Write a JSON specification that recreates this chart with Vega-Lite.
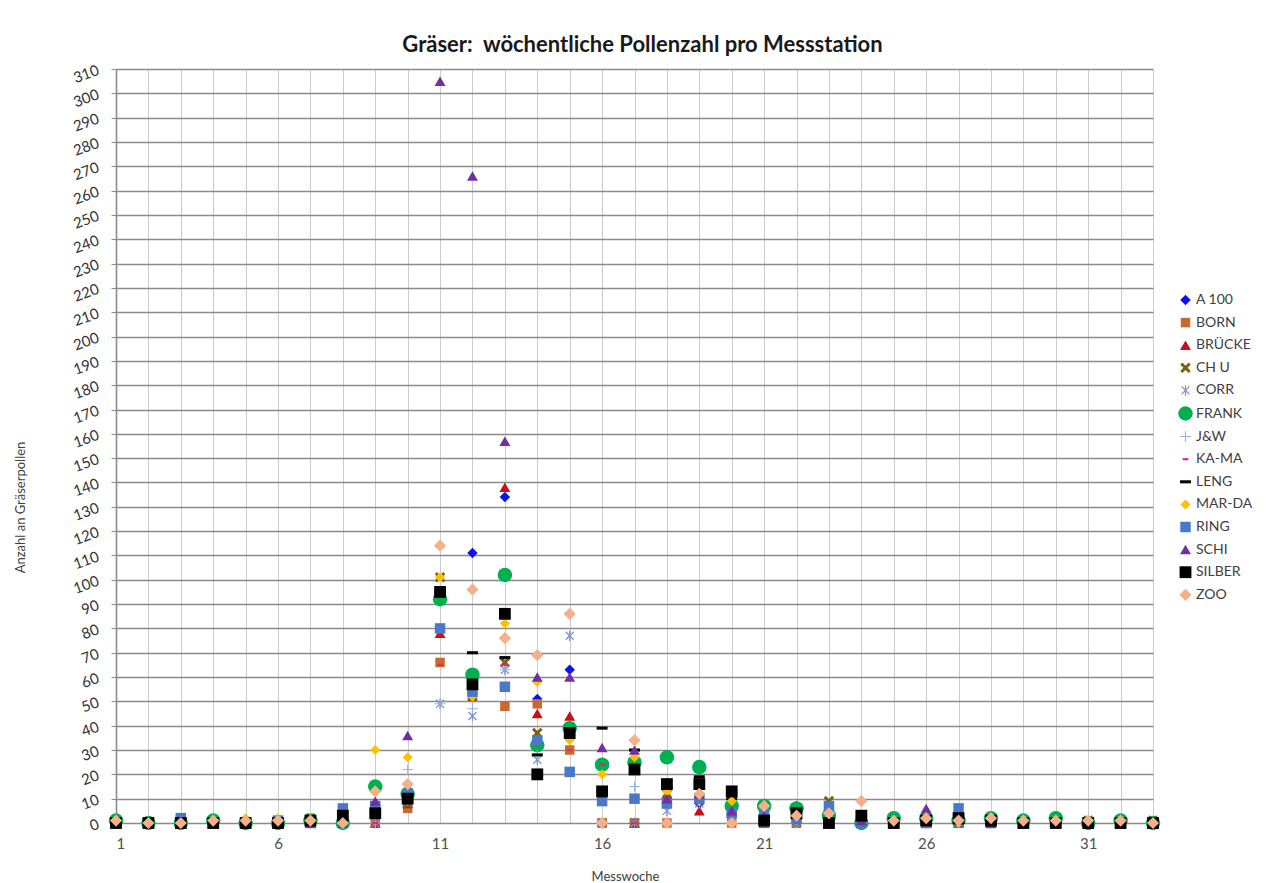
{
"$schema": "https://vega.github.io/schema/vega-lite/v6.json",
"width": 1037, "height": 754,
"autosize": {"type": "none"},
"padding": {"left": 116, "top": 69, "right": 135, "bottom": 60},
"background": "white",
"title": {"text": "Gräser:\u00a0 wöchentliche Pollenzahl pro Messstation", "font": "Lato", "fontSize": 22, "fontWeight": "bold", "color": "#1a1a1a", "anchor": "middle", "offset": 5, "dx": 8},
"data": {"values": [
{"s":"A 100","w":1,"v":0},{"s":"A 100","w":2,"v":0},{"s":"A 100","w":3,"v":0},{"s":"A 100","w":4,"v":0},{"s":"A 100","w":5,"v":0},{"s":"A 100","w":6,"v":0},{"s":"A 100","w":7,"v":0},{"s":"A 100","w":8,"v":0},{"s":"A 100","w":9,"v":2},{"s":"A 100","w":10,"v":8},{"s":"A 100","w":11,"v":95},{"s":"A 100","w":12,"v":111},{"s":"A 100","w":13,"v":134},{"s":"A 100","w":14,"v":51},{"s":"A 100","w":15,"v":63},{"s":"A 100","w":16,"v":0},{"s":"A 100","w":17,"v":0},{"s":"A 100","w":18,"v":10},{"s":"A 100","w":19,"v":8},{"s":"A 100","w":20,"v":4},{"s":"A 100","w":21,"v":0},{"s":"A 100","w":22,"v":7},{"s":"A 100","w":23,"v":3},{"s":"A 100","w":24,"v":1},{"s":"A 100","w":25,"v":0},{"s":"A 100","w":26,"v":0},{"s":"A 100","w":27,"v":1},{"s":"A 100","w":28,"v":0},{"s":"A 100","w":29,"v":0},{"s":"A 100","w":30,"v":0},{"s":"A 100","w":31,"v":0},{"s":"A 100","w":32,"v":0},{"s":"A 100","w":33,"v":0},
{"s":"BORN","w":1,"v":0},{"s":"BORN","w":2,"v":0},{"s":"BORN","w":3,"v":0},{"s":"BORN","w":4,"v":0},{"s":"BORN","w":5,"v":0},{"s":"BORN","w":6,"v":0},{"s":"BORN","w":7,"v":0},{"s":"BORN","w":8,"v":0},{"s":"BORN","w":9,"v":0},{"s":"BORN","w":10,"v":6},{"s":"BORN","w":11,"v":66},{"s":"BORN","w":12,"v":52},{"s":"BORN","w":13,"v":48},{"s":"BORN","w":14,"v":49},{"s":"BORN","w":15,"v":30},{"s":"BORN","w":16,"v":0},{"s":"BORN","w":17,"v":0},{"s":"BORN","w":18,"v":0},{"s":"BORN","w":19,"v":10},{"s":"BORN","w":20,"v":0},{"s":"BORN","w":21,"v":0},{"s":"BORN","w":22,"v":0},{"s":"BORN","w":23,"v":2},{"s":"BORN","w":24,"v":0},{"s":"BORN","w":25,"v":0},{"s":"BORN","w":26,"v":0},{"s":"BORN","w":27,"v":0},{"s":"BORN","w":28,"v":0},{"s":"BORN","w":29,"v":0},{"s":"BORN","w":30,"v":0},{"s":"BORN","w":31,"v":0},{"s":"BORN","w":32,"v":0},{"s":"BORN","w":33,"v":0},
{"s":"BRÜCKE","w":1,"v":0},{"s":"BRÜCKE","w":2,"v":0},{"s":"BRÜCKE","w":3,"v":0},{"s":"BRÜCKE","w":4,"v":0},{"s":"BRÜCKE","w":5,"v":0},{"s":"BRÜCKE","w":6,"v":0},{"s":"BRÜCKE","w":7,"v":0},{"s":"BRÜCKE","w":8,"v":0},{"s":"BRÜCKE","w":9,"v":0},{"s":"BRÜCKE","w":10,"v":8},{"s":"BRÜCKE","w":11,"v":78},{"s":"BRÜCKE","w":12,"v":55},{"s":"BRÜCKE","w":13,"v":138},{"s":"BRÜCKE","w":14,"v":45},{"s":"BRÜCKE","w":15,"v":44},{"s":"BRÜCKE","w":16,"v":24},{"s":"BRÜCKE","w":17,"v":0},{"s":"BRÜCKE","w":18,"v":12},{"s":"BRÜCKE","w":19,"v":5},{"s":"BRÜCKE","w":20,"v":4},{"s":"BRÜCKE","w":21,"v":0},{"s":"BRÜCKE","w":22,"v":2},{"s":"BRÜCKE","w":23,"v":0},{"s":"BRÜCKE","w":24,"v":0},{"s":"BRÜCKE","w":25,"v":0},{"s":"BRÜCKE","w":26,"v":0},{"s":"BRÜCKE","w":27,"v":0},{"s":"BRÜCKE","w":28,"v":0},{"s":"BRÜCKE","w":29,"v":0},{"s":"BRÜCKE","w":30,"v":0},{"s":"BRÜCKE","w":31,"v":0},{"s":"BRÜCKE","w":32,"v":0},{"s":"BRÜCKE","w":33,"v":0},
{"s":"CH U","w":1,"v":0},{"s":"CH U","w":2,"v":0},{"s":"CH U","w":3,"v":0},{"s":"CH U","w":4,"v":0},{"s":"CH U","w":5,"v":0},{"s":"CH U","w":6,"v":0},{"s":"CH U","w":7,"v":2},{"s":"CH U","w":8,"v":0},{"s":"CH U","w":9,"v":4},{"s":"CH U","w":10,"v":8},{"s":"CH U","w":11,"v":101},{"s":"CH U","w":12,"v":52},{"s":"CH U","w":13,"v":66},{"s":"CH U","w":14,"v":37},{"s":"CH U","w":15,"v":36},{"s":"CH U","w":16,"v":0},{"s":"CH U","w":17,"v":0},{"s":"CH U","w":18,"v":12},{"s":"CH U","w":19,"v":10},{"s":"CH U","w":20,"v":5},{"s":"CH U","w":21,"v":0},{"s":"CH U","w":22,"v":0},{"s":"CH U","w":23,"v":9},{"s":"CH U","w":24,"v":0},{"s":"CH U","w":25,"v":0},{"s":"CH U","w":26,"v":1},{"s":"CH U","w":27,"v":0},{"s":"CH U","w":28,"v":0},{"s":"CH U","w":29,"v":0},{"s":"CH U","w":30,"v":0},{"s":"CH U","w":31,"v":1},{"s":"CH U","w":32,"v":0},{"s":"CH U","w":33,"v":1},
{"s":"CORR","w":1,"v":0},{"s":"CORR","w":2,"v":0},{"s":"CORR","w":3,"v":0},{"s":"CORR","w":4,"v":0},{"s":"CORR","w":5,"v":0},{"s":"CORR","w":6,"v":0},{"s":"CORR","w":7,"v":0},{"s":"CORR","w":8,"v":0},{"s":"CORR","w":9,"v":0},{"s":"CORR","w":10,"v":9},{"s":"CORR","w":11,"v":49},{"s":"CORR","w":12,"v":44},{"s":"CORR","w":13,"v":63},{"s":"CORR","w":14,"v":26},{"s":"CORR","w":15,"v":77},{"s":"CORR","w":16,"v":0},{"s":"CORR","w":17,"v":0},{"s":"CORR","w":18,"v":5},{"s":"CORR","w":19,"v":8},{"s":"CORR","w":20,"v":2},{"s":"CORR","w":21,"v":0},{"s":"CORR","w":22,"v":0},{"s":"CORR","w":23,"v":2},{"s":"CORR","w":24,"v":0},{"s":"CORR","w":25,"v":0},{"s":"CORR","w":26,"v":0},{"s":"CORR","w":27,"v":0},{"s":"CORR","w":28,"v":0},{"s":"CORR","w":29,"v":0},{"s":"CORR","w":30,"v":0},{"s":"CORR","w":31,"v":0},{"s":"CORR","w":32,"v":0},{"s":"CORR","w":33,"v":0},
{"s":"FRANK","w":1,"v":1},{"s":"FRANK","w":2,"v":0},{"s":"FRANK","w":3,"v":0},{"s":"FRANK","w":4,"v":1},{"s":"FRANK","w":5,"v":0},{"s":"FRANK","w":6,"v":0},{"s":"FRANK","w":7,"v":1},{"s":"FRANK","w":8,"v":0},{"s":"FRANK","w":9,"v":15},{"s":"FRANK","w":10,"v":12},{"s":"FRANK","w":11,"v":92},{"s":"FRANK","w":12,"v":61},{"s":"FRANK","w":13,"v":102},{"s":"FRANK","w":14,"v":32},{"s":"FRANK","w":15,"v":39},{"s":"FRANK","w":16,"v":24},{"s":"FRANK","w":17,"v":25},{"s":"FRANK","w":18,"v":27},{"s":"FRANK","w":19,"v":23},{"s":"FRANK","w":20,"v":7},{"s":"FRANK","w":21,"v":7},{"s":"FRANK","w":22,"v":6},{"s":"FRANK","w":23,"v":3},{"s":"FRANK","w":24,"v":0},{"s":"FRANK","w":25,"v":2},{"s":"FRANK","w":26,"v":2},{"s":"FRANK","w":27,"v":1},{"s":"FRANK","w":28,"v":2},{"s":"FRANK","w":29,"v":1},{"s":"FRANK","w":30,"v":2},{"s":"FRANK","w":31,"v":0},{"s":"FRANK","w":32,"v":1},{"s":"FRANK","w":33,"v":0},
{"s":"J&W","w":1,"v":0},{"s":"J&W","w":2,"v":0},{"s":"J&W","w":3,"v":0},{"s":"J&W","w":4,"v":0},{"s":"J&W","w":5,"v":0},{"s":"J&W","w":6,"v":0},{"s":"J&W","w":7,"v":0},{"s":"J&W","w":8,"v":0},{"s":"J&W","w":9,"v":0},{"s":"J&W","w":10,"v":22},{"s":"J&W","w":11,"v":49},{"s":"J&W","w":12,"v":47},{"s":"J&W","w":13,"v":63},{"s":"J&W","w":14,"v":28},{"s":"J&W","w":15,"v":35},{"s":"J&W","w":16,"v":0},{"s":"J&W","w":17,"v":15},{"s":"J&W","w":18,"v":8},{"s":"J&W","w":19,"v":10},{"s":"J&W","w":20,"v":4},{"s":"J&W","w":21,"v":2},{"s":"J&W","w":22,"v":3},{"s":"J&W","w":23,"v":5},{"s":"J&W","w":24,"v":0},{"s":"J&W","w":25,"v":0},{"s":"J&W","w":26,"v":0},{"s":"J&W","w":27,"v":0},{"s":"J&W","w":28,"v":0},{"s":"J&W","w":29,"v":0},{"s":"J&W","w":30,"v":0},{"s":"J&W","w":31,"v":0},{"s":"J&W","w":32,"v":0},{"s":"J&W","w":33,"v":0},
{"s":"KA-MA","w":1,"v":0},{"s":"KA-MA","w":2,"v":0},{"s":"KA-MA","w":3,"v":0},{"s":"KA-MA","w":4,"v":0},{"s":"KA-MA","w":5,"v":0},{"s":"KA-MA","w":6,"v":0},{"s":"KA-MA","w":7,"v":0},{"s":"KA-MA","w":8,"v":0},{"s":"KA-MA","w":9,"v":0},{"s":"KA-MA","w":10,"v":10},{"s":"KA-MA","w":11,"v":65},{"s":"KA-MA","w":12,"v":52},{"s":"KA-MA","w":13,"v":65},{"s":"KA-MA","w":14,"v":32},{"s":"KA-MA","w":15,"v":30},{"s":"KA-MA","w":16,"v":24},{"s":"KA-MA","w":17,"v":0},{"s":"KA-MA","w":18,"v":12},{"s":"KA-MA","w":19,"v":12},{"s":"KA-MA","w":20,"v":4},{"s":"KA-MA","w":21,"v":0},{"s":"KA-MA","w":22,"v":0},{"s":"KA-MA","w":23,"v":0},{"s":"KA-MA","w":24,"v":0},{"s":"KA-MA","w":25,"v":0},{"s":"KA-MA","w":26,"v":0},{"s":"KA-MA","w":27,"v":0},{"s":"KA-MA","w":28,"v":0},{"s":"KA-MA","w":29,"v":0},{"s":"KA-MA","w":30,"v":0},{"s":"KA-MA","w":31,"v":0},{"s":"KA-MA","w":32,"v":0},{"s":"KA-MA","w":33,"v":0},
{"s":"LENG","w":1,"v":0},{"s":"LENG","w":2,"v":0},{"s":"LENG","w":3,"v":0},{"s":"LENG","w":4,"v":0},{"s":"LENG","w":5,"v":0},{"s":"LENG","w":6,"v":0},{"s":"LENG","w":7,"v":0},{"s":"LENG","w":8,"v":2},{"s":"LENG","w":9,"v":5},{"s":"LENG","w":10,"v":10},{"s":"LENG","w":11,"v":95},{"s":"LENG","w":12,"v":70},{"s":"LENG","w":13,"v":68},{"s":"LENG","w":14,"v":28},{"s":"LENG","w":15,"v":38},{"s":"LENG","w":16,"v":39},{"s":"LENG","w":17,"v":30},{"s":"LENG","w":18,"v":15},{"s":"LENG","w":19,"v":19},{"s":"LENG","w":20,"v":10},{"s":"LENG","w":21,"v":1},{"s":"LENG","w":22,"v":2},{"s":"LENG","w":23,"v":1},{"s":"LENG","w":24,"v":2},{"s":"LENG","w":25,"v":0},{"s":"LENG","w":26,"v":1},{"s":"LENG","w":27,"v":0},{"s":"LENG","w":28,"v":0},{"s":"LENG","w":29,"v":0},{"s":"LENG","w":30,"v":0},{"s":"LENG","w":31,"v":0},{"s":"LENG","w":32,"v":0},{"s":"LENG","w":33,"v":0},
{"s":"MAR-DA","w":1,"v":0},{"s":"MAR-DA","w":2,"v":0},{"s":"MAR-DA","w":3,"v":0},{"s":"MAR-DA","w":4,"v":0},{"s":"MAR-DA","w":5,"v":2},{"s":"MAR-DA","w":6,"v":2},{"s":"MAR-DA","w":7,"v":2},{"s":"MAR-DA","w":8,"v":0},{"s":"MAR-DA","w":9,"v":30},{"s":"MAR-DA","w":10,"v":27},{"s":"MAR-DA","w":11,"v":101},{"s":"MAR-DA","w":12,"v":52},{"s":"MAR-DA","w":13,"v":82},{"s":"MAR-DA","w":14,"v":58},{"s":"MAR-DA","w":15,"v":34},{"s":"MAR-DA","w":16,"v":20},{"s":"MAR-DA","w":17,"v":27},{"s":"MAR-DA","w":18,"v":13},{"s":"MAR-DA","w":19,"v":9},{"s":"MAR-DA","w":20,"v":9},{"s":"MAR-DA","w":21,"v":2},{"s":"MAR-DA","w":22,"v":3},{"s":"MAR-DA","w":23,"v":2},{"s":"MAR-DA","w":24,"v":0},{"s":"MAR-DA","w":25,"v":0},{"s":"MAR-DA","w":26,"v":0},{"s":"MAR-DA","w":27,"v":0},{"s":"MAR-DA","w":28,"v":0},{"s":"MAR-DA","w":29,"v":0},{"s":"MAR-DA","w":30,"v":0},{"s":"MAR-DA","w":31,"v":0},{"s":"MAR-DA","w":32,"v":0},{"s":"MAR-DA","w":33,"v":0},
{"s":"RING","w":1,"v":0},{"s":"RING","w":2,"v":0},{"s":"RING","w":3,"v":2},{"s":"RING","w":4,"v":0},{"s":"RING","w":5,"v":0},{"s":"RING","w":6,"v":1},{"s":"RING","w":7,"v":0},{"s":"RING","w":8,"v":6},{"s":"RING","w":9,"v":7},{"s":"RING","w":10,"v":12},{"s":"RING","w":11,"v":80},{"s":"RING","w":12,"v":54},{"s":"RING","w":13,"v":56},{"s":"RING","w":14,"v":34},{"s":"RING","w":15,"v":21},{"s":"RING","w":16,"v":9},{"s":"RING","w":17,"v":10},{"s":"RING","w":18,"v":8},{"s":"RING","w":19,"v":10},{"s":"RING","w":20,"v":4},{"s":"RING","w":21,"v":4},{"s":"RING","w":22,"v":2},{"s":"RING","w":23,"v":7},{"s":"RING","w":24,"v":0},{"s":"RING","w":25,"v":0},{"s":"RING","w":26,"v":0},{"s":"RING","w":27,"v":6},{"s":"RING","w":28,"v":0},{"s":"RING","w":29,"v":0},{"s":"RING","w":30,"v":0},{"s":"RING","w":31,"v":0},{"s":"RING","w":32,"v":0},{"s":"RING","w":33,"v":0},
{"s":"SCHI","w":1,"v":0},{"s":"SCHI","w":2,"v":0},{"s":"SCHI","w":3,"v":0},{"s":"SCHI","w":4,"v":0},{"s":"SCHI","w":5,"v":0},{"s":"SCHI","w":6,"v":0},{"s":"SCHI","w":7,"v":0},{"s":"SCHI","w":8,"v":0},{"s":"SCHI","w":9,"v":9},{"s":"SCHI","w":10,"v":36},{"s":"SCHI","w":11,"v":305},{"s":"SCHI","w":12,"v":266},{"s":"SCHI","w":13,"v":157},{"s":"SCHI","w":14,"v":60},{"s":"SCHI","w":15,"v":60},{"s":"SCHI","w":16,"v":31},{"s":"SCHI","w":17,"v":30},{"s":"SCHI","w":18,"v":10},{"s":"SCHI","w":19,"v":12},{"s":"SCHI","w":20,"v":5},{"s":"SCHI","w":21,"v":3},{"s":"SCHI","w":22,"v":4},{"s":"SCHI","w":23,"v":2},{"s":"SCHI","w":24,"v":1},{"s":"SCHI","w":25,"v":0},{"s":"SCHI","w":26,"v":6},{"s":"SCHI","w":27,"v":1},{"s":"SCHI","w":28,"v":0},{"s":"SCHI","w":29,"v":0},{"s":"SCHI","w":30,"v":0},{"s":"SCHI","w":31,"v":0},{"s":"SCHI","w":32,"v":0},{"s":"SCHI","w":33,"v":0},
{"s":"SILBER","w":1,"v":0},{"s":"SILBER","w":2,"v":0},{"s":"SILBER","w":3,"v":0},{"s":"SILBER","w":4,"v":0},{"s":"SILBER","w":5,"v":0},{"s":"SILBER","w":6,"v":0},{"s":"SILBER","w":7,"v":1},{"s":"SILBER","w":8,"v":3},{"s":"SILBER","w":9,"v":4},{"s":"SILBER","w":10,"v":10},{"s":"SILBER","w":11,"v":95},{"s":"SILBER","w":12,"v":57},{"s":"SILBER","w":13,"v":86},{"s":"SILBER","w":14,"v":20},{"s":"SILBER","w":15,"v":37},{"s":"SILBER","w":16,"v":13},{"s":"SILBER","w":17,"v":22},{"s":"SILBER","w":18,"v":16},{"s":"SILBER","w":19,"v":16},{"s":"SILBER","w":20,"v":13},{"s":"SILBER","w":21,"v":1},{"s":"SILBER","w":22,"v":4},{"s":"SILBER","w":23,"v":0},{"s":"SILBER","w":24,"v":3},{"s":"SILBER","w":25,"v":0},{"s":"SILBER","w":26,"v":1},{"s":"SILBER","w":27,"v":2},{"s":"SILBER","w":28,"v":1},{"s":"SILBER","w":29,"v":0},{"s":"SILBER","w":30,"v":0},{"s":"SILBER","w":31,"v":0},{"s":"SILBER","w":32,"v":0},{"s":"SILBER","w":33,"v":0},
{"s":"ZOO","w":1,"v":1},{"s":"ZOO","w":2,"v":0},{"s":"ZOO","w":3,"v":0},{"s":"ZOO","w":4,"v":1},{"s":"ZOO","w":5,"v":1},{"s":"ZOO","w":6,"v":1},{"s":"ZOO","w":7,"v":1},{"s":"ZOO","w":8,"v":0},{"s":"ZOO","w":9,"v":13},{"s":"ZOO","w":10,"v":16},{"s":"ZOO","w":11,"v":114},{"s":"ZOO","w":12,"v":96},{"s":"ZOO","w":13,"v":76},{"s":"ZOO","w":14,"v":69},{"s":"ZOO","w":15,"v":86},{"s":"ZOO","w":16,"v":0},{"s":"ZOO","w":17,"v":34},{"s":"ZOO","w":18,"v":0},{"s":"ZOO","w":19,"v":12},{"s":"ZOO","w":20,"v":0},{"s":"ZOO","w":21,"v":7},{"s":"ZOO","w":22,"v":3},{"s":"ZOO","w":23,"v":4},{"s":"ZOO","w":24,"v":9},{"s":"ZOO","w":25,"v":1},{"s":"ZOO","w":26,"v":2},{"s":"ZOO","w":27,"v":1},{"s":"ZOO","w":28,"v":2},{"s":"ZOO","w":29,"v":1},{"s":"ZOO","w":30,"v":1},{"s":"ZOO","w":31,"v":1},{"s":"ZOO","w":32,"v":1},{"s":"ZOO","w":33,"v":0}
]},
"mark": {"type": "point", "filled": true, "opacity": 1, "strokeWidth": 0},
"encoding": {
"x": {"field": "w", "type": "quantitative", "scale": {"domain": [1, 33], "nice": false, "zero": false},
 "axis": {"values": [1,2,3,4,5,6,7,8,9,10,11,12,13,14,15,16,17,18,19,20,21,22,23,24,25,26,27,28,29,30,31,32,33], "labelExpr": "(datum.value - 1) % 5 == 0 ? datum.label : ''", "grid": true, "gridColor": "#cccccc", "gridWidth": 1, "ticks": false, "domain": false, "labelFontSize": 15, "labelColor": "#505050", "labelPadding": 13, "labelFont": "Lato", "title": "Messwoche", "titleFont": "Lato", "titleFontSize": 13, "titleFontWeight": "normal", "titleColor": "#404040", "titleX": 509, "titleY": 53, "titleBaseline": "middle", "titleAnchor": null}},
"y": {"field": "v", "type": "quantitative", "scale": {"domain": [0, 310], "nice": false},
 "axis": {"values": [0,10,20,30,40,50,60,70,80,90,100,110,120,130,140,150,160,170,180,190,200,210,220,230,240,250,260,270,280,290,300,310], "grid": true, "gridColor": "#8a8a8a", "gridWidth": 1.6, "domain": true, "domainColor": "#8a8a8a", "domainWidth": 1.6, "ticks": true, "tickColor": "#8a8a8a", "tickSize": 5, "labelFontSize": 15, "labelFont": "Lato", "labelColor": "#333333", "labelAngle": -20, "labelPadding": 13, "title": "Anzahl an Gräserpollen", "titleFont": "Lato", "titleFontSize": 13, "titleFontWeight": "normal", "titleColor": "#404040", "titleX": -96, "titleY": 438, "titleAngle": -90, "titleBaseline": "middle", "titleAlign": "center"}},
"color": {"field": "s", "type": "nominal", "title": null, "scale": {"domain": ["A 100","BORN","BRÜCKE","CH U","CORR","FRANK","J&W","KA-MA","LENG","MAR-DA","RING","SCHI","SILBER","ZOO"], "range": ["#0a14f0","#c8692f","#c8101a","#7a6010","#7d92c8","#00b050","#8fb4e3","#e8246e","#000000","#ffc000","#4a78c8","#7030a0","#000000","#f4b08a"]}},
"shape": {"field": "s", "type": "nominal", "title": null, "scale": {"domain": ["A 100","BORN","BRÜCKE","CH U","CORR","FRANK","J&W","KA-MA","LENG","MAR-DA","RING","SCHI","SILBER","ZOO"], "range": ["diamond","square","triangle-up","M-1,-0.6L-0.6,-1L0,-0.4L0.6,-1L1,-0.6L0.4,0L1,0.6L0.6,1L0,0.4L-0.6,1L-1,0.6L-0.4,0Z","M-0.12,-1H0.12V1H-0.12Z M-0.85,-0.68L-0.68,-0.85L0.85,0.68L0.68,0.85Z M0.68,-0.85L0.85,-0.68L-0.68,0.85L-0.85,0.68Z","circle","M-1,-0.1H-0.1V-1H0.1V-0.1H1V0.1H0.1V1H-0.1V0.1H-1Z","M-0.6,-0.22H0.6V0.22H-0.6Z","M-1,-0.28H1V0.28H-1Z","diamond","square","triangle-up","square","diamond"]}},
"size": {"field": "s", "type": "nominal", "title": null, "scale": {"type": "ordinal", "domain": ["A 100","BORN","BRÜCKE","CH U","CORR","FRANK","J&W","KA-MA","LENG","MAR-DA","RING","SCHI","SILBER","ZOO"], "range": [110,90,120,110,110,210,110,90,120,100,110,120,140,150]}}
},
"config": {
 "view": {"stroke": null},
 "legend": {"orient": "none", "legendX": 1062, "legendY": 224, "padding": 0, "labelFont": "Lato", "labelFontSize": 14, "labelColor": "#404040", "rowPadding": 8.6, "labelOffset": 3, "symbolStrokeWidth": 0}
}
}
